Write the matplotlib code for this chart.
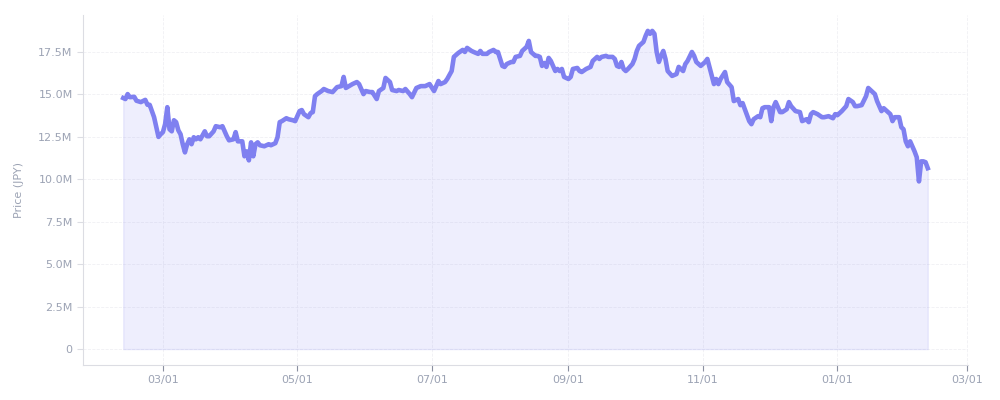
import matplotlib
matplotlib.use("Agg")
import matplotlib.pyplot as plt
import matplotlib.dates as mdates
from matplotlib.ticker import FuncFormatter
import pandas as pd

# days since 2024-02-12 and price in millions of JPY
start_date = "2024-02-12"
days = [
    0, 1, 2, 3, 5, 6, 8, 10, 11, 12, 14, 15, 16, 17, 18, 19, 20, 21, 22, 23,
    24, 25, 26, 27, 28, 29, 30, 31, 32, 33, 34, 35, 37, 38, 39, 41, 42, 44, 45, 47,
    48, 50, 51, 52, 53, 54, 55, 56, 57, 58, 59, 60, 61, 62, 64, 66, 67, 69, 70, 71,
    72, 74, 75, 77, 78, 80, 81, 82, 84, 85, 86, 87, 88, 90, 91, 93, 95, 97, 99, 100,
    101, 104, 106, 107, 109, 110, 112, 113, 115, 116, 118, 119, 121, 122, 124, 125, 127, 128, 130, 131,
    133, 135, 137, 139, 141, 143, 144, 146, 147, 149, 150, 152, 154, 155, 156, 158, 159, 161, 162, 163,
    165, 166, 168, 169, 170, 172, 173, 174, 176, 177, 178, 180, 181, 183, 184, 185, 187, 188, 189, 190,
    191, 192, 193, 194, 196, 197, 198, 199, 200, 202, 203, 204, 206, 207, 208, 210, 212, 213, 215, 216,
    217, 219, 220, 222, 223, 224, 225, 226, 227, 228, 229, 231, 232, 233, 234, 236, 237, 238, 239, 240,
    241, 242, 243, 244, 245, 246, 247, 249, 251, 252, 254, 255, 256, 258, 259, 260, 262, 264, 265, 267,
    268, 269, 270, 271, 273, 274, 276, 277, 279, 280, 281, 282, 284, 285, 286, 288, 289, 290, 291, 293,
    294, 295, 296, 298, 299, 301, 302, 303, 305, 307, 308, 310, 311, 312, 313, 315, 317, 318, 320, 322,
    323, 324, 326, 328, 329, 331, 332, 333, 335, 337, 338, 340, 341, 342, 344, 345, 347, 348, 349, 350,
    352, 353, 354, 355, 356, 357, 359, 360, 361, 362, 363, 364, 365,
]
price_m = [
    14.78, 14.72, 15.01, 14.83, 14.85, 14.62, 14.54, 14.67, 14.38, 14.38, 13.65, 13.06, 12.49, 12.65, 12.77, 13.24, 14.24, 12.94, 12.82, 13.47,
    13.36, 12.88, 12.65, 12.06, 11.58, 12.06, 12.35, 12.06, 12.47, 12.35, 12.47, 12.35, 12.82, 12.53, 12.53, 12.82, 13.12, 13.06, 13.12, 12.53,
    12.29, 12.35, 12.77, 12.23, 12.23, 12.23, 11.35, 11.64, 11.11, 12.17, 11.35, 12.06, 12.17, 12.00, 11.94, 12.06, 12.00, 12.12, 12.47, 13.36,
    13.42, 13.59, 13.53, 13.47, 13.42, 14.01, 14.07, 13.83, 13.65, 13.89, 13.95, 14.89, 15.01, 15.19, 15.31, 15.19, 15.13, 15.42, 15.48, 16.02,
    15.37, 15.60, 15.72, 15.60, 15.01, 15.19, 15.13, 15.13, 14.72, 15.19, 15.37, 15.96, 15.72, 15.25, 15.19, 15.25, 15.19, 15.31, 15.01, 14.83,
    15.37, 15.48, 15.48, 15.60, 15.19, 15.78, 15.60, 15.72, 15.90, 16.37, 17.20, 17.43, 17.61, 17.49, 17.73, 17.55, 17.49, 17.38, 17.55, 17.38,
    17.38, 17.49, 17.61, 17.49, 17.49, 16.67, 16.61, 16.78, 16.90, 16.90, 17.20, 17.26, 17.55, 17.79, 18.14, 17.49, 17.26, 17.26, 17.20, 16.67,
    16.84, 16.61, 17.14, 16.96, 16.37, 16.49, 16.37, 16.49, 16.02, 15.90, 16.02, 16.49, 16.55, 16.37, 16.31, 16.49, 16.61, 16.96, 17.20, 17.08,
    17.20, 17.26, 17.20, 17.20, 17.08, 16.67, 16.61, 16.90, 16.49, 16.37, 16.49, 16.78, 17.08, 17.55, 17.85, 18.08, 18.44, 18.73, 18.56, 18.73,
    18.56, 17.49, 16.90, 17.26, 17.55, 17.08, 16.37, 16.08, 16.19, 16.61, 16.37, 16.78, 16.96, 17.49, 17.26, 16.90, 16.67, 16.90, 17.08, 16.08,
    15.60, 15.90, 15.60, 15.90, 16.31, 15.72, 15.42, 14.60, 14.72, 14.36, 14.48, 14.12, 13.42, 13.24, 13.53, 13.71, 13.65, 14.18, 14.24, 14.24,
    13.42, 14.24, 14.54, 13.95, 13.95, 14.12, 14.54, 14.30, 14.01, 13.95, 13.42, 13.53, 13.36, 13.83, 13.95, 13.83, 13.65, 13.65, 13.71, 13.59,
    13.83, 13.77, 14.01, 14.30, 14.72, 14.54, 14.30, 14.30, 14.36, 14.89, 15.37, 15.13, 15.01, 14.60, 14.01, 14.18, 13.95, 13.83, 13.42, 13.65,
    13.65, 13.06, 12.94, 12.23, 11.94, 12.23, 11.64, 11.29, 9.87, 11.05, 11.05, 11.00, 10.65,
]

LINE = "#7f80f0"
MUTED = "#9ca3b4"
EDGE = "#dcdde3"


def price_fmt(v, _pos):
    if v == 0:
        return "0"
    return f"{v / 1e6:.1f}M"


def main():
    dates = pd.Timestamp(start_date) + pd.to_timedelta(days, unit="D")
    prices = [p * 1e6 for p in price_m]

    fig = plt.figure(figsize=(10, 4), dpi=100)
    ax = fig.add_axes([0.083, 0.0875, 0.885, 0.875])

    ax.fill_between(dates, prices, 0, color=LINE, alpha=0.13, linewidth=1)
    ax.plot(dates, prices, color=LINE, linewidth=3.3, solid_joinstyle="round")

    ax.yaxis.set_major_formatter(FuncFormatter(price_fmt))
    ax.set_yticks([i * 2.5e6 for i in range(8)])
    ax.xaxis.set_major_locator(mdates.MonthLocator(bymonth=[1, 3, 5, 7, 9, 11]))
    ax.xaxis.set_major_formatter(mdates.DateFormatter("%m/%d"))

    ax.set_ylabel("Price (JPY)", color=MUTED, fontsize=8, labelpad=10)
    ax.tick_params(colors=MUTED, labelsize=8, length=4, width=0.8)
    ax.tick_params(axis="x", color="#8a8fa0")
    ax.tick_params(axis="y", color=EDGE)
    for side in ("top", "right"):
        ax.spines[side].set_visible(False)
    for side in ("left", "bottom"):
        ax.spines[side].set_color(EDGE)
        ax.spines[side].set_linewidth(0.8)
    ax.grid(True, linestyle="--", color="#f0f0f4", linewidth=0.6)
    ax.set_axisbelow(True)

    fig.savefig("out.png", dpi=100, facecolor="white")


if __name__ == "__main__":
    main()
